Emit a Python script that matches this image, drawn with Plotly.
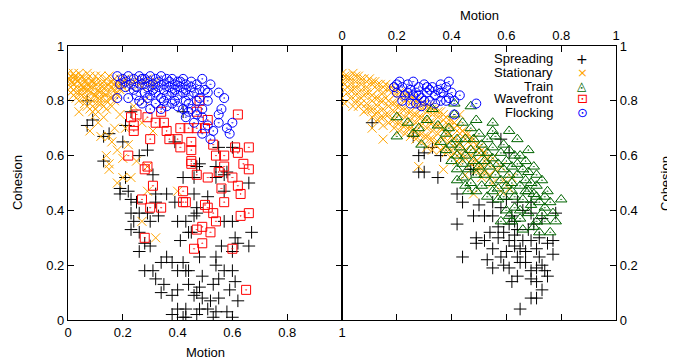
import plotly.graph_objects as go

categories = ["Spreading", "Stationary", "Train", "Wavefront", "Flocking"]
legend_glyphs = ["+", "×", "◬", "⊡", "⊙"]
tick_vals = [0, 0.2, 0.4, 0.6, 0.8, 1]
tick_text = ["0", "0.2", "0.4", "0.6", "0.8", "1"]

# ---------------- left panel ----------------
spreading_left = [
    (0.07,0.80),(0.09,0.73),(0.07,0.71),(0.13,0.67),(0.15,0.68),(0.23,0.76),(0.21,0.71),(0.20,0.65),
    (0.29,0.62),(0.26,0.60),(0.13,0.58),(0.21,0.52),(0.39,0.65),(0.42,0.76),(0.47,0.56),
    (0.31,0.53),(0.19,0.48),(0.22,0.47),(0.19,0.46),(0.23,0.44),(0.25,0.43),(0.32,0.46),(0.36,0.46),
    (0.39,0.43),(0.32,0.43),(0.23,0.39),(0.26,0.39),(0.29,0.39),(0.33,0.38),(0.24,0.36),(0.30,0.36),
    (0.23,0.33),(0.26,0.32),(0.28,0.28),(0.30,0.27),(0.26,0.25),(0.40,0.36),(0.43,0.36),(0.41,0.29),
    (0.44,0.32),(0.47,0.39),(0.36,0.23),(0.34,0.21),(0.38,0.21),(0.42,0.21),(0.28,0.18),(0.31,0.18),
    (0.40,0.18),(0.43,0.18),(0.32,0.15),(0.35,0.13),(0.44,0.13),(0.34,0.10),(0.38,0.09),(0.40,0.11),
    (0.47,0.10),(0.40,0.04),(0.43,0.04),(0.38,0.02),(0.42,0.01),(0.43,0.01),
    (0.42,0.52),(0.57,0.53),(0.54,0.52),(0.66,0.50),(0.57,0.47),(0.46,0.46),(0.51,0.45),(0.47,0.41),
    (0.46,0.38),(0.60,0.36),(0.57,0.36),(0.67,0.32),(0.45,0.32),(0.61,0.30),(0.62,0.28),(0.56,0.27),
    (0.66,0.27),(0.60,0.25),(0.48,0.23),(0.54,0.23),(0.54,0.20),(0.57,0.18),(0.60,0.18),(0.44,0.18),
    (0.49,0.16),(0.55,0.15),(0.61,0.14),(0.53,0.13),(0.48,0.12),(0.59,0.11),(0.55,0.08),(0.62,0.07),
    (0.46,0.09),(0.49,0.08),(0.52,0.07),(0.48,0.04),(0.51,0.04),(0.54,0.03),(0.58,0.03),(0.47,0.02),
    (0.53,0.01),(0.60,0.01),(0.60,0.63),(0.55,0.63),(0.48,0.57),(0.54,0.56),(0.58,0.54),(0.46,0.52),
]

stationary_left = [
    (0.00,0.90),(0.01,0.89),(0.02,0.90),(0.03,0.88),(0.04,0.90),(0.05,0.89),(0.06,0.88),(0.07,0.90),
    (0.08,0.89),(0.09,0.87),(0.10,0.89),(0.11,0.88),(0.12,0.89),(0.13,0.87),(0.14,0.88),(0.15,0.89),
    (0.16,0.87),(0.17,0.88),(0.18,0.86),(0.19,0.88),(0.20,0.87),(0.21,0.88),(0.22,0.86),(0.24,0.87),
    (0.26,0.86),(0.28,0.87),(0.30,0.86),(0.32,0.87),
    (0.00,0.87),(0.01,0.85),(0.02,0.86),(0.02,0.84),(0.03,0.85),(0.04,0.83),(0.05,0.86),(0.05,0.82),
    (0.06,0.84),(0.07,0.86),(0.07,0.81),(0.08,0.83),(0.09,0.85),(0.09,0.80),(0.10,0.82),(0.11,0.84),
    (0.11,0.79),(0.12,0.86),(0.12,0.81),(0.13,0.83),(0.14,0.85),(0.14,0.80),(0.15,0.83),(0.16,0.85),
    (0.16,0.81),(0.17,0.84),(0.18,0.82),(0.19,0.84),(0.20,0.85),(0.03,0.81),(0.06,0.79),(0.08,0.77),
    (0.10,0.77),(0.13,0.78),
    (0.005,0.88),(0.015,0.87),(0.025,0.89),(0.035,0.87),(0.045,0.88),(0.055,0.85),(0.065,0.87),
    (0.075,0.84),(0.085,0.87),(0.095,0.82),(0.105,0.86),(0.115,0.83),(0.125,0.85),(0.135,0.82),
    (0.145,0.86),(0.155,0.81),(0.165,0.86),(0.175,0.83),(0.185,0.85),(0.195,0.86),(0.03,0.83),
    (0.06,0.81),(0.09,0.78),(0.12,0.79),(0.05,0.84),(0.08,0.85),(0.11,0.81),(0.02,0.82),(0.17,0.80),
    (0.23,0.85),(0.25,0.88),(0.27,0.85),(0.29,0.88),(0.31,0.85),(0.01,0.83),(0.04,0.80),(0.07,0.78),
    (0.10,0.75),(0.14,0.77),(0.16,0.78),
    (0.09,0.76),(0.13,0.74),(0.08,0.69),(0.12,0.67),(0.15,0.67),(0.16,0.65),(0.18,0.62),(0.14,0.60),
    (0.15,0.57),(0.20,0.59),(0.21,0.70),(0.27,0.72),(0.31,0.69),(0.29,0.56),(0.25,0.58),(0.15,0.55),
    (0.20,0.52),(0.23,0.52),(0.18,0.50),(0.40,0.47),(0.27,0.36),(0.32,0.30),(0.29,0.47),(0.11,0.72),
    (0.17,0.70),(0.22,0.64),(0.19,0.75),(0.24,0.78),(0.28,0.80),(0.04,0.76),
]

wavefront_left = [
    (0.23,0.74),(0.25,0.75),(0.29,0.74),(0.24,0.71),(0.24,0.69),(0.32,0.72),(0.35,0.72),(0.36,0.69),
    (0.30,0.66),(0.37,0.66),(0.41,0.70),(0.44,0.70),(0.47,0.70),(0.40,0.66),(0.41,0.63),(0.45,0.62),
    (0.45,0.58),(0.22,0.60),(0.29,0.56),(0.47,0.76),(0.34,0.76),
    (0.62,0.75),(0.48,0.80),(0.51,0.73),(0.50,0.70),(0.45,0.65),(0.53,0.64),(0.57,0.60),(0.54,0.60),
    (0.61,0.63),(0.62,0.61),(0.66,0.63),(0.64,0.57),(0.66,0.55),(0.45,0.57),(0.57,0.56),(0.47,0.53),
    (0.51,0.52),(0.60,0.52),(0.55,0.54),(0.62,0.49),(0.56,0.48),(0.63,0.46),(0.42,0.47),(0.42,0.43),
    (0.50,0.42),(0.51,0.41),(0.53,0.39),(0.57,0.43),(0.54,0.36),(0.63,0.38),(0.66,0.39),(0.49,0.34),
    (0.52,0.32),(0.49,0.28),(0.46,0.26),(0.60,0.26),(0.65,0.11),
    (0.28,0.55),(0.31,0.49),(0.27,0.44),(0.30,0.41),(0.34,0.41),(0.43,0.43),(0.28,0.30),(0.47,0.33),
]

flocking_left = [
    (0.18,0.89),(0.20,0.88),(0.22,0.89),(0.24,0.88),(0.26,0.89),(0.28,0.88),(0.30,0.89),(0.32,0.88),
    (0.34,0.89),(0.36,0.88),(0.38,0.88),(0.40,0.87),(0.42,0.88),(0.49,0.88),(0.52,0.86),
    (0.19,0.86),(0.21,0.85),(0.23,0.86),(0.25,0.85),(0.27,0.86),(0.29,0.85),(0.31,0.86),(0.33,0.85),
    (0.35,0.86),(0.37,0.85),(0.39,0.86),(0.41,0.85),(0.43,0.86),(0.45,0.85),(0.47,0.86),(0.50,0.84),
    (0.18,0.81),(0.22,0.81),(0.25,0.82),(0.28,0.83),(0.30,0.82),(0.32,0.83),(0.34,0.81),(0.36,0.82),
    (0.38,0.83),(0.40,0.82),(0.42,0.83),(0.44,0.82),(0.46,0.83),(0.48,0.81),(0.51,0.83),(0.55,0.83),
    (0.57,0.81),(0.51,0.80),(0.26,0.80),
    (0.27,0.79),(0.30,0.77),(0.34,0.77),(0.38,0.79),(0.42,0.77),(0.45,0.77),(0.49,0.77),(0.56,0.77),
    (0.40,0.78),(0.36,0.78),(0.44,0.79),
    (0.55,0.75),(0.49,0.74),(0.46,0.72),(0.60,0.72),(0.53,0.69),(0.49,0.68),(0.52,0.66),(0.59,0.68),
    (0.55,0.72),(0.47,0.75),(0.43,0.74),(0.51,0.71),(0.58,0.70),
    (0.29,0.87),(0.31,0.84),(0.33,0.87),(0.35,0.84),(0.37,0.87),(0.39,0.84),(0.41,0.87),(0.43,0.84),
    (0.45,0.87),(0.35,0.80),(0.39,0.80),(0.43,0.80),(0.47,0.80),(0.32,0.79),(0.29,0.81),(0.24,0.84),
    (0.21,0.87),(0.27,0.88),(0.44,0.76),(0.48,0.84),
]

# ---------------- right panel ----------------
spreading_right = [
    (0.11,0.72),(0.26,0.67),(0.28,0.60),(0.30,0.61),(0.33,0.63),(0.35,0.52),(0.28,0.54),(0.36,0.60),
    (0.48,0.55),(0.30,0.54),(0.42,0.46),(0.44,0.43),(0.42,0.35),(0.48,0.38),(0.49,0.30),(0.49,0.28),
    (0.44,0.23),(0.50,0.42),(0.52,0.38),(0.55,0.38),(0.55,0.43),(0.58,0.41),(0.60,0.44),(0.64,0.43),
    (0.69,0.43),(0.69,0.39),(0.73,0.37),(0.78,0.39),(0.54,0.32),(0.55,0.26),(0.57,0.30),(0.59,0.32),
    (0.61,0.29),(0.63,0.31),(0.64,0.33),(0.66,0.29),(0.63,0.27),(0.65,0.26),(0.69,0.29),(0.71,0.26),
    (0.72,0.23),(0.75,0.28),(0.77,0.29),(0.77,0.24),(0.64,0.23),(0.65,0.21),(0.67,0.21),(0.69,0.18),
    (0.71,0.19),(0.73,0.20),(0.74,0.18),(0.75,0.16),(0.64,0.16),(0.69,0.15),(0.71,0.14),(0.53,0.22),
    (0.55,0.19),(0.59,0.20),(0.61,0.19),(0.62,0.14),(0.73,0.11),(0.69,0.08),(0.71,0.08),(0.65,0.04),
    (0.61,0.35),(0.70,0.35),(0.58,0.66),(0.61,0.61),(0.47,0.55),(0.62,0.38),(0.66,0.40),(0.60,0.25),
    (0.67,0.25),(0.72,0.30),(0.68,0.33),(0.57,0.34),(0.63,0.36),(0.52,0.29),(0.58,0.23),
]

stationary_right = [
    (0.00,0.90),(0.00,0.87),(0.01,0.84),(0.00,0.81),(0.01,0.79),(0.02,0.89),(0.03,0.86),(0.02,0.83),
    (0.03,0.81),(0.02,0.88),(0.04,0.90),(0.05,0.87),(0.04,0.84),(0.05,0.80),(0.04,0.78),(0.06,0.89),
    (0.07,0.86),(0.06,0.83),(0.07,0.81),(0.06,0.78),(0.08,0.88),(0.09,0.85),(0.08,0.82),(0.09,0.79),
    (0.08,0.76),(0.10,0.88),(0.11,0.86),(0.10,0.83),(0.11,0.80),(0.10,0.77),(0.11,0.74),(0.12,0.87),
    (0.13,0.84),(0.12,0.81),(0.13,0.78),(0.12,0.75),(0.13,0.73),(0.14,0.86),(0.15,0.83),(0.14,0.80),
    (0.15,0.77),(0.14,0.74),(0.15,0.71),(0.16,0.86),(0.17,0.84),(0.16,0.81),(0.17,0.78),(0.16,0.75),
    (0.17,0.72),(0.18,0.85),(0.19,0.82),(0.18,0.79),(0.19,0.76),(0.18,0.73),(0.19,0.70),(0.20,0.84),
    (0.21,0.81),(0.20,0.78),(0.21,0.75),(0.20,0.72),(0.21,0.69),(0.22,0.83),(0.23,0.80),(0.22,0.77),
    (0.23,0.74),(0.22,0.71),(0.23,0.68),(0.24,0.82),(0.25,0.79),(0.24,0.76),(0.25,0.73),(0.24,0.70),
    (0.25,0.67),(0.26,0.81),(0.27,0.78),(0.26,0.75),(0.27,0.72),(0.26,0.69),(0.27,0.66),(0.28,0.80),
    (0.29,0.77),(0.28,0.74),(0.29,0.71),(0.28,0.68),(0.29,0.65),(0.30,0.79),(0.31,0.76),(0.30,0.73),
    (0.31,0.70),(0.30,0.67),(0.31,0.63),(0.32,0.78),(0.33,0.75),(0.32,0.72),(0.33,0.69),(0.32,0.66),
    (0.33,0.62),(0.34,0.77),(0.35,0.74),(0.34,0.71),(0.35,0.68),(0.34,0.64),(0.36,0.76),(0.37,0.73),
    (0.36,0.70),(0.37,0.66),(0.36,0.62),(0.38,0.74),(0.39,0.71),(0.38,0.68),(0.39,0.65),(0.38,0.61),
    (0.40,0.73),(0.41,0.70),(0.40,0.67),(0.41,0.63),(0.40,0.60),(0.42,0.71),(0.43,0.68),(0.42,0.65),
    (0.43,0.61),(0.42,0.58),(0.44,0.69),(0.45,0.66),(0.44,0.63),(0.45,0.59),(0.46,0.68),(0.47,0.64),
    (0.46,0.61),(0.47,0.57),(0.48,0.66),(0.49,0.62),(0.48,0.59),(0.49,0.55),(0.50,0.63),(0.51,0.60),
    (0.50,0.56),(0.51,0.52),(0.52,0.61),(0.53,0.57),(0.52,0.54),(0.55,0.59),(0.56,0.55),(0.55,0.50),
    (0.58,0.56),(0.59,0.51),(0.58,0.47),(0.62,0.52),(0.61,0.48),
    (0.01,0.89),(0.01,0.86),(0.03,0.88),(0.03,0.84),(0.05,0.89),(0.05,0.85),(0.05,0.82),(0.07,0.88),
    (0.07,0.84),(0.07,0.79),(0.09,0.87),(0.09,0.83),(0.09,0.77),(0.11,0.87),(0.11,0.82),(0.11,0.77),
    (0.13,0.86),(0.13,0.81),(0.13,0.76),(0.15,0.85),(0.15,0.80),(0.15,0.74),(0.17,0.85),(0.17,0.80),
    (0.17,0.75),(0.19,0.84),(0.19,0.79),(0.19,0.73),(0.21,0.83),(0.21,0.78),(0.21,0.72),(0.23,0.82),
    (0.23,0.77),(0.23,0.71),(0.25,0.81),(0.25,0.76),(0.25,0.70),(0.27,0.80),(0.27,0.75),(0.27,0.69),
    (0.29,0.79),(0.29,0.74),(0.29,0.68),(0.31,0.78),(0.31,0.73),(0.31,0.67),(0.33,0.77),(0.33,0.72),
    (0.33,0.66),(0.35,0.76),(0.35,0.71),(0.35,0.65),(0.37,0.75),(0.37,0.70),(0.37,0.63),(0.39,0.73),
    (0.39,0.68),(0.39,0.62),(0.41,0.72),(0.41,0.66),(0.41,0.61),(0.43,0.70),(0.43,0.64),(0.43,0.59),
    (0.45,0.68),(0.45,0.62),(0.47,0.66),(0.47,0.60),(0.49,0.64),(0.49,0.58),(0.51,0.62),(0.51,0.56),
    (0.53,0.59),(0.54,0.53),
    (0.11,0.70),(0.15,0.66),(0.28,0.56),(0.37,0.55),(0.48,0.46),(0.43,0.75),(0.45,0.53),(0.50,0.55),
]

train_right = [
    (0.20,0.74),(0.20,0.67),(0.24,0.72),(0.28,0.70),(0.31,0.73),(0.33,0.77),(0.41,0.79),(0.39,0.70),
    (0.38,0.68),(0.29,0.64),(0.41,0.75),(0.42,0.66),(0.49,0.73),(0.47,0.70),(0.47,0.78),(0.26,0.68),
    (0.35,0.71),(0.44,0.72),(0.36,0.65),
    (0.55,0.72),(0.55,0.69),(0.61,0.69),(0.64,0.66),(0.68,0.62),(0.65,0.60),(0.71,0.53),
    (0.80,0.44),(0.78,0.36),(0.76,0.32),(0.72,0.32),(0.73,0.39),(0.71,0.36),(0.62,0.36),(0.65,0.40),
    (0.75,0.47),(0.71,0.45),(0.67,0.47),(0.55,0.47),(0.62,0.47),(0.59,0.45),(0.42,0.51),(0.45,0.49),
    (0.38,0.62),(0.40,0.58),(0.40,0.64),(0.42,0.60),(0.42,0.55),(0.43,0.63),(0.44,0.57),(0.44,0.52),
    (0.45,0.66),(0.45,0.60),(0.46,0.55),(0.47,0.62),(0.47,0.50),(0.48,0.58),(0.48,0.66),(0.49,0.53),
    (0.50,0.61),(0.50,0.56),(0.50,0.68),(0.51,0.49),(0.51,0.64),(0.52,0.58),(0.52,0.53),(0.53,0.66),
    (0.53,0.61),(0.54,0.50),(0.54,0.56),(0.55,0.63),(0.55,0.59),(0.56,0.53),(0.56,0.67),(0.57,0.48),
    (0.57,0.57),(0.58,0.61),(0.58,0.51),(0.59,0.55),(0.59,0.64),(0.60,0.49),(0.60,0.58),(0.61,0.53),
    (0.61,0.62),(0.62,0.56),(0.62,0.50),(0.63,0.60),(0.63,0.45),(0.64,0.53),(0.64,0.57),(0.65,0.49),
    (0.66,0.55),(0.66,0.44),(0.67,0.51),(0.67,0.58),(0.68,0.47),(0.68,0.54),(0.69,0.42),(0.69,0.50),
    (0.70,0.56),(0.70,0.46),(0.71,0.49),(0.72,0.43),(0.73,0.51),(0.74,0.45),(0.74,0.41),(0.76,0.43),
    (0.77,0.39),(0.65,0.37),(0.68,0.39),(0.63,0.41),(0.60,0.40),(0.57,0.44),(0.53,0.45),(0.49,0.47),
    (0.46,0.47),(0.58,0.36),(0.70,0.34),(0.74,0.36),(0.66,0.33),(0.61,0.38),
]

flocking_right = [
    (0.19,0.85),(0.20,0.83),(0.21,0.87),(0.22,0.85),(0.23,0.82),(0.24,0.86),(0.25,0.84),(0.26,0.87),
    (0.27,0.83),(0.28,0.85),(0.29,0.81),(0.30,0.86),(0.31,0.83),(0.32,0.80),(0.33,0.85),(0.34,0.82),
    (0.35,0.84),(0.36,0.80),(0.37,0.83),(0.38,0.85),(0.39,0.81),(0.40,0.83),(0.41,0.80),(0.29,0.78),
    (0.27,0.79),(0.34,0.79),(0.39,0.87),(0.49,0.79),(0.41,0.75),(0.22,0.80),(0.25,0.79),(0.31,0.85),
    (0.36,0.86),(0.43,0.82),(0.20,0.86),(0.24,0.83),(0.28,0.82),(0.32,0.84),(0.36,0.83),(0.30,0.80),
    (0.26,0.82),(0.38,0.80),
]

colors = {"Spreading": "black", "Stationary": "#FFA500", "Train": "#006400",
          "Wavefront": "#FF0000", "Flocking": "#0000FF"}
styles = {
    "Spreading": dict(symbol="cross-thin-open", size=9),
    "Stationary": dict(symbol="x-thin-open", size=9),
    "Train": dict(symbol="triangle-up-open-dot", size=10),
    "Wavefront": dict(symbol="square-open-dot", size=9),
    "Flocking": dict(symbol="circle-open-dot", size=9),
}

panels = [
    ("Spreading", spreading_left, "x", "y"),
    ("Spreading", spreading_right, "x2", "y2"),
    ("Stationary", stationary_left, "x", "y"),
    ("Stationary", stationary_right, "x2", "y2"),
    ("Train", train_right, "x2", "y2"),
    ("Wavefront", wavefront_left, "x", "y"),
    ("Flocking", flocking_left, "x", "y"),
    ("Flocking", flocking_right, "x2", "y2"),
]

fig = go.Figure()
for name, pts, xa, ya in panels:
    st = styles[name]
    c = colors[name]
    fig.add_trace(go.Scatter(
        x=[p[0] for p in pts], y=[p[1] for p in pts],
        mode="markers", name=name, showlegend=False,
        xaxis=xa, yaxis=ya,
        marker=dict(symbol=st["symbol"], size=st["size"], color=c,
                    line=dict(color=c, width=1)),
    ))

FONT = "Liberation Sans, Arial, sans-serif"
SYMFONT = "DejaVu Sans, Liberation Sans, sans-serif"
axis_common = dict(range=[0, 1], tickvals=tick_vals, ticktext=tick_text,
                   ticks="inside", ticklen=6, tickcolor="black", showline=True,
                   linecolor="black", linewidth=1.2, mirror="ticks", showgrid=False,
                   zeroline=False, tickfont=dict(family=FONT, size=13, color="black"))

annotations = [
    dict(text="Motion", xref="paper", yref="paper", x=0.25, y=-0.117,
         xanchor="center", yanchor="middle", showarrow=False),
    dict(text="Motion", xref="paper", yref="paper", x=0.75, y=1.1095,
         xanchor="center", yanchor="middle", showarrow=False),
    dict(text="Cohesion", xref="paper", yref="paper", x=-0.093, y=0.5,
         xanchor="center", yanchor="middle", textangle=-90, showarrow=False),
    dict(text="Cohesion", xref="paper", yref="paper", x=1.0894, y=0.5,
         xanchor="center", yanchor="middle", textangle=-90, showarrow=False),
]

# key (gnuplot style: label right-aligned, sample symbol to its right)
key_rows_y = [0.9526, 0.9033, 0.8540, 0.8066, 0.7573]
key_sizes = [14, 13, 12, 13, 13]
for name, glyph, ky, gs in zip(categories, legend_glyphs, key_rows_y, key_sizes):
    annotations.append(dict(text=name, xref="paper", yref="paper", x=0.8869, y=ky,
                            xanchor="right", yanchor="middle", showarrow=False,
                            borderpad=0,
                            font=dict(family=FONT, size=13, color="black")))
    annotations.append(dict(text=glyph, xref="paper", yref="paper", x=0.938, y=ky,
                            xanchor="center", yanchor="middle", showarrow=False,
                            borderpad=0,
                            font=dict(family=SYMFONT, size=gs, color=colors[name])))

# page body has an 8px margin, so the figure is 8px smaller than the window
W, H = 667, 355
fig.update_layout(
    width=W, height=H,
    margin=dict(l=60, r=59, t=38, b=43),
    paper_bgcolor="white", plot_bgcolor="white",
    font=dict(family=FONT, size=13, color="black"),
    xaxis=dict(domain=[0, 0.5], anchor="y", side="bottom", **axis_common),
    yaxis=dict(domain=[0, 1], anchor="x", side="left", **axis_common),
    xaxis2=dict(domain=[0.5, 1], anchor="y2", side="top", **axis_common),
    yaxis2=dict(domain=[0, 1], anchor="x2", side="right", **axis_common),
    showlegend=False,
    annotations=annotations,
)

fig.write_html("out.html")
